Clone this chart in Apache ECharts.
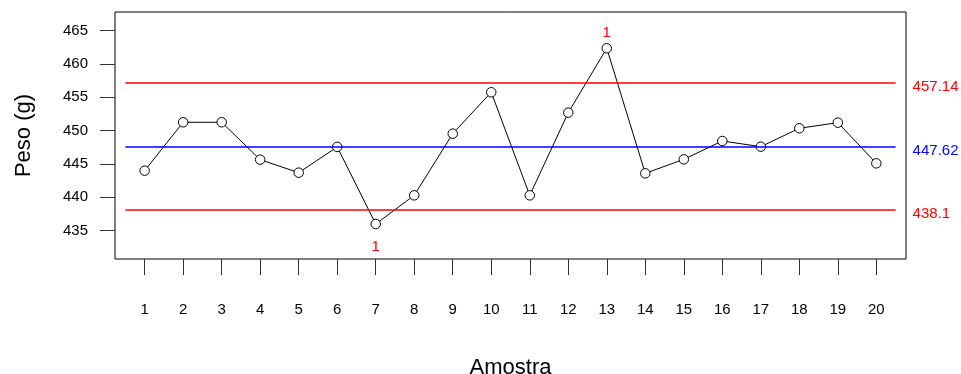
<!DOCTYPE html>
<html>
<head>
<meta charset="utf-8">
<script src="https://cdn.jsdelivr.net/npm/echarts@6/dist/echarts.min.js"></script>
<style>
  html, body { margin: 0; padding: 0; background: #fff; }
  #chart { width: 961px; height: 374px; }
</style>
</head>
<body>
<div id="chart"></div>
<script>
// Carta de controle das médias (peso por amostra)
const amostras = [1, 2, 3, 4, 5, 6, 7, 8, 9, 10, 11, 12, 13, 14, 15, 16, 17, 18, 19, 20];
const pesos = [444.0, 451.26, 451.26, 445.65, 443.7, 447.56, 436.0, 440.3, 449.55, 455.76,
               440.3, 452.7, 462.36, 443.6, 445.7, 448.45, 447.6, 450.36, 451.2, 445.1];
const limiteSuperior = 457.14;
const linhaCentral = 447.62;
const limiteInferior = 438.1;
const yTicks = [435, 440, 445, 450, 455, 460, 465];

const FONT = '"Liberation Sans", Arial, Helvetica, sans-serif';
const VERMELHO = '#ff0000';
const AZUL = '#0000ff';

const pontos = amostras.map((a, i) => [a, pesos[i]]);
// pontos fora dos limites recebem o rótulo da regra violada
const violacoes = pontos
  .filter(p => p[1] > limiteSuperior || p[1] < limiteInferior)
  .map(p => ({
    value: p,
    label: {
      position: p[1] > limiteSuperior ? 'top' : 'bottom',
      distance: p[1] > limiteSuperior ? 8 : 15
    }
  }));

const limites = [
  { valor: limiteSuperior, cor: VERMELHO },
  { valor: linhaCentral, cor: AZUL },
  { valor: limiteInferior, cor: VERMELHO }
];
const X_INI = 0.5, X_FIM = 20.5;

const chart = echarts.init(document.getElementById('chart'), null, { renderer: 'canvas' });
chart.setOption({
  animation: false,
  backgroundColor: '#fff',
  grid: {
    left: 115, right: 55, top: 12, bottom: 115,
    outerBoundsMode: 'none',
    containLabel: false,
    show: true, borderColor: '#000', borderWidth: 1, backgroundColor: '#fff'
  },
  xAxis: {
    type: 'value',
    min: 0.23, max: 20.77,
    name: 'Amostra',
    nameLocation: 'middle',
    nameGap: 98,
    nameTextStyle: { fontFamily: FONT, fontSize: 22, color: '#000' },
    axisLine: { show: false },
    splitLine: { show: false },
    axisTick: { show: true, length: 16, customValues: amostras,
                lineStyle: { color: '#333', width: 1 } },
    axisLabel: { customValues: amostras, margin: 43, fontFamily: FONT,
                 fontSize: 15, color: '#000' }
  },
  yAxis: {
    type: 'value',
    min: 430.75, max: 467.8,
    name: 'Peso (g)',
    nameLocation: 'middle',
    nameGap: 80,
    nameTextStyle: { fontFamily: FONT, fontSize: 22, color: '#000' },
    axisLine: { show: false },
    splitLine: { show: false },
    axisTick: { show: true, length: 15, customValues: yTicks,
                lineStyle: { color: '#333', width: 1 } },
    axisLabel: { customValues: yTicks, margin: 27, fontFamily: FONT,
                 fontSize: 15, color: '#000' }
  },
  series: [
    {
      type: 'line',
      data: pontos,
      symbol: 'circle',
      symbolSize: 9.5,
      showAllSymbol: true,
      lineStyle: { color: '#000', width: 1 },
      itemStyle: { color: '#fff', borderColor: '#000', borderWidth: 1 },
      z: 3,
      markLine: {
        silent: true,
        symbol: 'none',
        lineStyle: { type: 'solid', width: 1.5 },
        label: { show: false },
        data: limites.map(l => [
          { coord: [X_INI, l.valor], lineStyle: { color: l.cor } },
          { coord: [X_FIM, l.valor] }
        ])
      }
    },
    {
      // valores dos limites escritos à direita das linhas
      type: 'scatter',
      symbolSize: 0,
      silent: true,
      z: 4,
      itemStyle: { opacity: 1 },
      data: limites.map(l => ({
        value: [X_FIM, l.valor],
        label: { color: l.cor, formatter: String(l.valor) }
      })),
      label: { show: true, position: 'right', distance: 17, offset: [0, 4],
               opacity: 1, fontFamily: FONT, fontSize: 15 }
    },
    {
      type: 'scatter',
      data: violacoes,
      symbolSize: 0,
      silent: true,
      z: 4,
      itemStyle: { opacity: 1 },
      label: { show: true, formatter: '1', color: VERMELHO, opacity: 1,
               fontFamily: FONT, fontSize: 15 }
    }
  ]
});
</script>
</body>
</html>
